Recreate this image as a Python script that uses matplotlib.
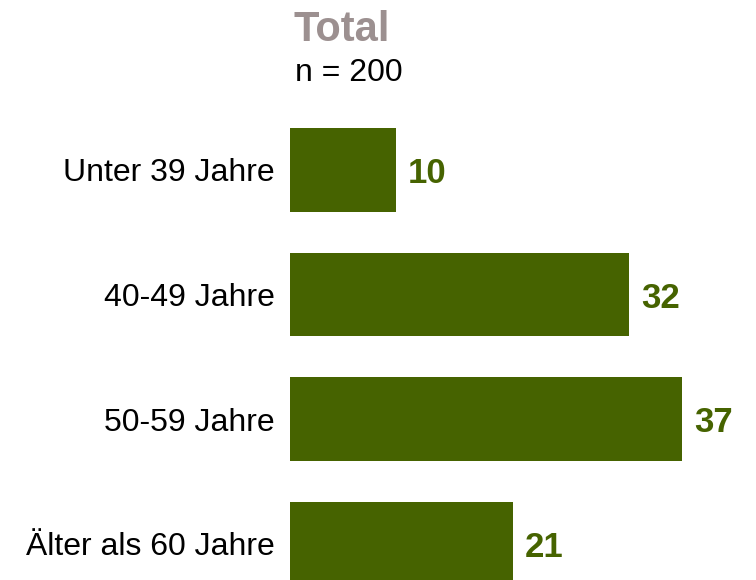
import matplotlib.pyplot as plt

plt.rcParams['font.family'] = ['Liberation Sans', 'DejaVu Sans']

categories = ['Unter 39 Jahre', '40-49 Jahre', '50-59 Jahre', 'Älter als 60 Jahre']
values = [10, 32, 37, 21]
title = 'Total'
subtitle = 'n = 200'

bar_color = '#466300'

fig = plt.figure(figsize=(7.56, 5.8), dpi=100)
# axes start where the bars start; the last bar runs off the bottom edge
ax = fig.add_axes([290 / 756, 0, 466 / 756, 480 / 580])

pos = list(range(len(categories)))
ax.barh(pos, values, height=0.67, color=bar_color)
for p, v in zip(pos, values):
    ax.text(v + 1.1, p + 0.03, str(v), va='center', ha='left',
            fontsize=25, fontweight='bold', color=bar_color)

ax.set_xlim(0, 466 / 10.6)
ax.set_ylim(3.293, -0.562)
ax.set_yticks(pos)
ax.set_yticklabels(categories, fontsize=23)
ax.tick_params(axis='y', length=0, pad=11)
ax.set_xticks([])
for s in ax.spines.values():
    s.set_visible(False)

fig.text(342 / 756, 1 - 30 / 580, title, ha='center', va='center',
         fontsize=30, fontweight='bold', color='#9c9090')
fig.text(349 / 756, 1 - 73 / 580, subtitle, ha='center', va='center',
         fontsize=23, color='black')

fig.savefig('out.png', dpi=100)
